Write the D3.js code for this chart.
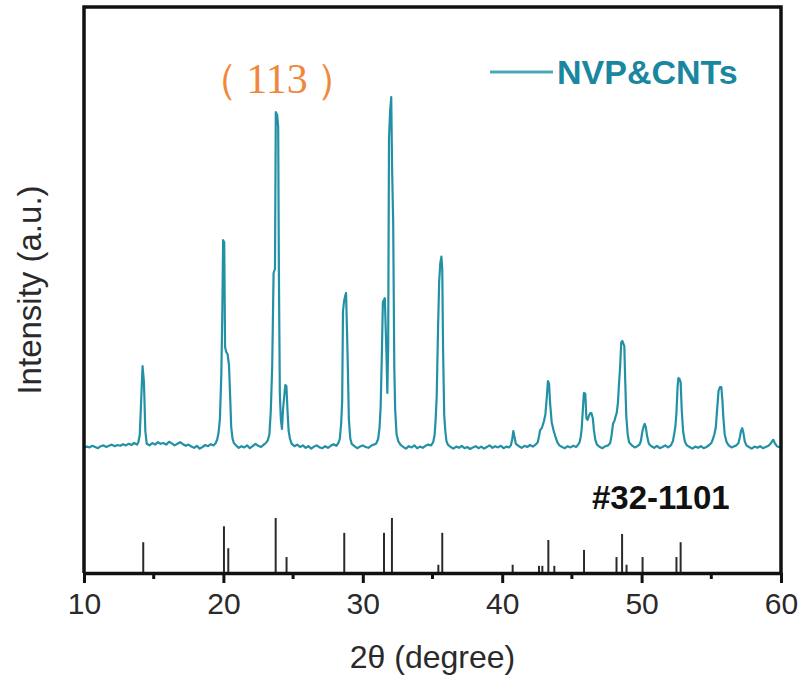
<!DOCTYPE html>
<html>
<head>
<meta charset="utf-8">
<script src="https://cdn.jsdelivr.net/npm/d3@7"></script>
<style>
  html, body { margin: 0; padding: 0; background: #fff; }
  svg { display: block; }
  text { font-family: "Liberation Sans", Arial, sans-serif; }
</style>
</head>
<body>
<svg id="chart" width="799" height="680"></svg>
<script>
// XRD scan of NVP&CNTs: [2θ (degree), intensity (a.u.)]
const nvpScan = [
  [10.0,98],[10.2,101],[10.4,99],[10.6,103],[10.8,100],[11.0,97],[11.2,102],[11.4,104],[11.6,100],[11.8,103],
  [12.0,106],[12.2,102],[12.4,105],[12.6,103],[12.8,107],[13.0,104],[13.2,108],[13.4,105],[13.6,110],[13.8,106],
  [13.9,112],[14.0,130],[14.1,215],[14.2,302],[14.3,262],[14.4,140],[14.5,108],
  [14.7,104],[14.9,110],[15.1,106],[15.3,112],[15.5,108],[15.7,110],[15.9,106],[16.1,113],[16.3,109],[16.5,104],
  [16.7,108],[16.9,112],[17.1,107],[17.3,103],[17.5,106],[17.7,101],[17.9,98],[18.1,103],[18.3,96],[18.5,100],
  [18.7,105],[18.9,102],[19.1,107],[19.3,104],[19.45,110],
  [19.55,118],[19.65,135],[19.75,170],[19.85,280],[19.92,430],[19.98,617],[20.06,612],[20.12,350],[20.2,338],
  [20.3,332],[20.4,305],[20.48,230],[20.56,150],[20.65,122],[20.75,110],
  [20.9,104],[21.1,98],[21.3,102],[21.5,99],[21.7,104],[21.9,97],[22.1,102],[22.3,108],[22.5,103],[22.7,100],
  [22.9,106],[23.05,110],
  [23.2,118],[23.3,132],[23.4,190],[23.5,300],[23.6,535],[23.7,545],[23.76,937],[23.86,930],[23.93,900],
  [23.98,540],[24.05,232],[24.12,170],[24.2,145],[24.28,195],[24.36,225],[24.44,255],[24.52,252],[24.6,190],
  [24.68,140],[24.78,120],[24.9,108],
  [25.1,102],[25.3,106],[25.5,100],[25.7,104],[25.9,98],[26.1,102],[26.3,96],[26.5,101],[26.7,104],[26.9,99],
  [27.1,97],[27.3,102],[27.5,98],[27.7,103],[27.9,107],[28.1,103],[28.25,110],
  [28.35,120],[28.45,160],[28.52,215],[28.58,440],[28.66,465],[28.74,478],[28.8,485],[28.86,400],[28.92,312],
  [29.0,170],[29.1,122],[29.2,108],
  [29.4,102],[29.6,97],[29.8,101],[30.0,104],[30.2,100],[30.4,98],[30.6,103],[30.8,106],[30.95,108],
  [31.1,120],[31.2,148],[31.28,200],[31.36,320],[31.44,462],[31.52,468],[31.58,472],[31.64,400],[31.7,330],
  [31.76,235],[31.82,352],[31.88,872],[31.96,940],[32.04,975],[32.1,800],[32.18,662],[32.26,300],[32.32,195],
  [32.42,132],[32.55,114],[32.7,106],
  [32.9,100],[33.1,96],[33.3,102],[33.5,99],[33.7,104],[33.9,97],[34.1,101],[34.3,98],[34.5,103],[34.7,106],
  [34.9,104],
  [35.05,112],[35.15,130],[35.22,165],[35.3,225],[35.4,400],[35.48,515],[35.56,560],[35.64,576],[35.7,545],
  [35.76,342],[35.84,180],[35.92,140],[36.0,115],[36.1,106],
  [36.3,100],[36.5,96],[36.7,101],[36.9,98],[37.1,103],[37.3,97],[37.5,100],[37.7,95],[37.9,99],[38.1,102],
  [38.3,97],[38.5,101],[38.7,96],[38.9,100],[39.1,104],[39.3,98],[39.5,102],[39.7,99],[39.9,103],[40.1,97],
  [40.3,101],[40.5,99],
  [40.62,104],[40.72,120],[40.8,140],[40.88,125],[40.98,108],
  [41.2,102],[41.4,98],[41.6,103],[41.8,100],[42.0,105],[42.2,101],[42.4,106],
  [42.55,112],[42.65,128],[42.72,142],[42.85,148],[43.0,165],[43.1,182],[43.2,225],[43.28,265],[43.36,258],
  [43.44,208],[43.55,162],[43.68,142],[43.8,128],[43.95,112],
  [44.1,104],[44.3,100],[44.5,97],[44.7,102],[44.9,99],[45.1,103],[45.3,100],[45.45,106],
  [45.55,112],[45.63,125],[45.7,145],[45.78,190],[45.86,235],[45.96,233],[46.04,172],[46.12,168],[46.2,176],
  [46.3,184],[46.4,185],[46.5,172],[46.58,142],[46.68,118],[46.8,106],
  [47.0,100],[47.2,97],[47.4,102],[47.6,104],
  [47.75,110],[47.85,130],[47.95,158],[48.05,165],[48.15,178],[48.22,186],[48.3,210],[48.38,258],[48.46,300],
  [48.54,362],[48.62,365],[48.7,358],[48.76,352],[48.82,272],[48.9,178],[49.0,132],[49.1,112],
  [49.3,104],[49.5,99],[49.7,102],[49.85,106],
  [49.95,115],[50.05,138],[50.15,152],[50.22,158],[50.3,150],[50.4,126],[50.52,108],
  [50.7,102],[50.9,98],[51.1,103],[51.3,97],[51.5,100],[51.7,104],[51.9,99],[52.1,104],
  [52.25,115],[52.35,135],[52.42,150],[52.5,185],[52.58,250],[52.64,272],[52.72,270],[52.8,262],[52.88,192],
  [52.98,138],[53.1,114],[53.25,104],
  [53.45,100],[53.65,96],[53.85,101],[54.05,98],[54.25,102],[54.45,97],[54.65,100],[54.85,105],
  [55.0,110],[55.12,120],[55.22,132],[55.32,148],[55.42,195],[55.52,240],[55.62,250],[55.72,250],[55.8,215],
  [55.86,176],[55.96,132],[56.1,112],[56.25,104],
  [56.45,99],[56.65,102],[56.8,104],
  [56.95,110],[57.05,125],[57.13,140],[57.22,147],[57.3,136],[57.4,114],[57.52,104],
  [57.7,100],[57.9,96],[58.1,101],[58.3,98],[58.5,102],[58.7,97],[58.9,100],[59.1,103],
  [59.25,108],[59.35,114],[59.45,118],[59.55,110],[59.7,102],[59.85,100],[60.0,98]
];

// Reference pattern #32-1101: line positions and relative intensities
const refAngle     = [14.25, 20.04, 20.35, 23.75, 24.53, 28.67, 31.52, 32.09, 35.42, 35.70, 40.75,
                      42.64, 42.88, 43.31, 43.74, 45.87, 48.20, 48.60, 48.92, 50.07, 52.50, 52.80];
const refIntensity = [56, 85, 45, 100, 29, 73, 73, 100, 15, 73, 15,
                      13, 13, 60, 13, 42, 29, 71, 15, 29, 29, 56];

const majorTicks = [10, 20, 30, 40, 50, 60];
const minorTicks = [15, 25, 35, 45, 55];

const seriesName = "NVP&CNTs";
const refName = "#32-1101";
const peakIndex = "113";
const xTitle = "2θ (degree)";
const yTitle = "Intensity (a.u.)";

const svg = d3.select("#chart");
const plotLeft = 84, plotRight = 781, plotTop = 7, plotBottom = 573;

const x = d3.scaleLinear().domain([10, 60]).range([plotLeft, plotRight]);
const y = d3.scaleLinear().domain([0, 1000]).range([487, 87]);
const yRef = d3.scaleLinear().domain([0, 100]).range([plotBottom, 518]);

// reference sticks
svg.append("g")
  .selectAll("line")
  .data(refAngle)
  .join("line")
  .attr("x1", d => x(d)).attr("x2", d => x(d))
  .attr("y1", yRef(0))
  .attr("y2", (d, i) => yRef(refIntensity[i]))
  .attr("stroke", "#2a2a2a")
  .attr("stroke-width", 2);

// measured scan
svg.append("path")
  .datum(nvpScan)
  .attr("fill", "none")
  .attr("stroke", "#2391a5")
  .attr("stroke-width", 2.2)
  .attr("stroke-linejoin", "round")
  .attr("d", d3.line().x(d => x(d[0])).y(d => y(d[1])));

// frame: left, top, right
svg.append("path")
  .attr("d", `M${plotLeft},${plotBottom}V${plotTop}H${plotRight}V${plotBottom}`)
  .attr("fill", "none")
  .attr("stroke", "#111")
  .attr("stroke-width", 3.5);

// bottom axis
const axis = svg.append("g")
  .attr("transform", `translate(0,${plotBottom})`)
  .call(d3.axisBottom(x).tickValues(majorTicks).tickSize(10).tickSizeOuter(0).tickPadding(10)
        .tickFormat(d3.format("d")));
axis.select(".domain").attr("stroke", "#111").attr("stroke-width", 3.5);
axis.selectAll(".tick line").attr("stroke", "#111").attr("stroke-width", 3);
axis.selectAll(".tick text")
  .attr("fill", "#2a2a2a")
  .style("font-size", "30px")
  .style("font-family", "'Liberation Sans', Arial, sans-serif");

svg.append("g")
  .attr("transform", `translate(0,${plotBottom})`)
  .selectAll("line")
  .data(minorTicks)
  .join("line")
  .attr("x1", d => x(d)).attr("x2", d => x(d))
  .attr("y1", 0).attr("y2", 6)
  .attr("stroke", "#111")
  .attr("stroke-width", 3);

// axis titles
svg.append("text")
  .attr("x", (plotLeft + plotRight) / 2)
  .attr("y", 668)
  .attr("text-anchor", "middle")
  .attr("fill", "#2a2a2a")
  .style("font-size", "32px")
  .text(xTitle);

svg.append("text")
  .attr("transform", `translate(41,${(plotTop + plotBottom) / 2}) rotate(-90)`)
  .attr("text-anchor", "middle")
  .attr("fill", "#2a2a2a")
  .style("font-size", "33px")
  .text(yTitle);

// legend
svg.append("line")
  .attr("x1", 490).attr("x2", 553)
  .attr("y1", 72).attr("y2", 72)
  .attr("stroke", "#4aa9ba")
  .attr("stroke-width", 3);
svg.append("text")
  .attr("x", 557).attr("y", 84)
  .attr("fill", "#1a87a0")
  .style("font-size", "34px")
  .style("font-weight", "bold")
  .text(seriesName);

// reference card label
svg.append("text")
  .attr("x", 592).attr("y", 509)
  .attr("fill", "#111")
  .style("font-size", "33px")
  .style("font-weight", "bold")
  .text(refName);

// peak index, full-width parentheses with open spacing
const idx = svg.append("text")
  .attr("x", 277).attr("y", 93)
  .attr("text-anchor", "middle")
  .attr("fill", "#f0883c")
  .style("font-size", "42px")
  .style("font-family", "'Liberation Serif', 'Times New Roman', serif");
idx.append("tspan").text("（");
idx.append("tspan").attr("dx", 8).text(peakIndex);
idx.append("tspan").attr("dx", 8).text("）");
</script>
</body>
</html>
